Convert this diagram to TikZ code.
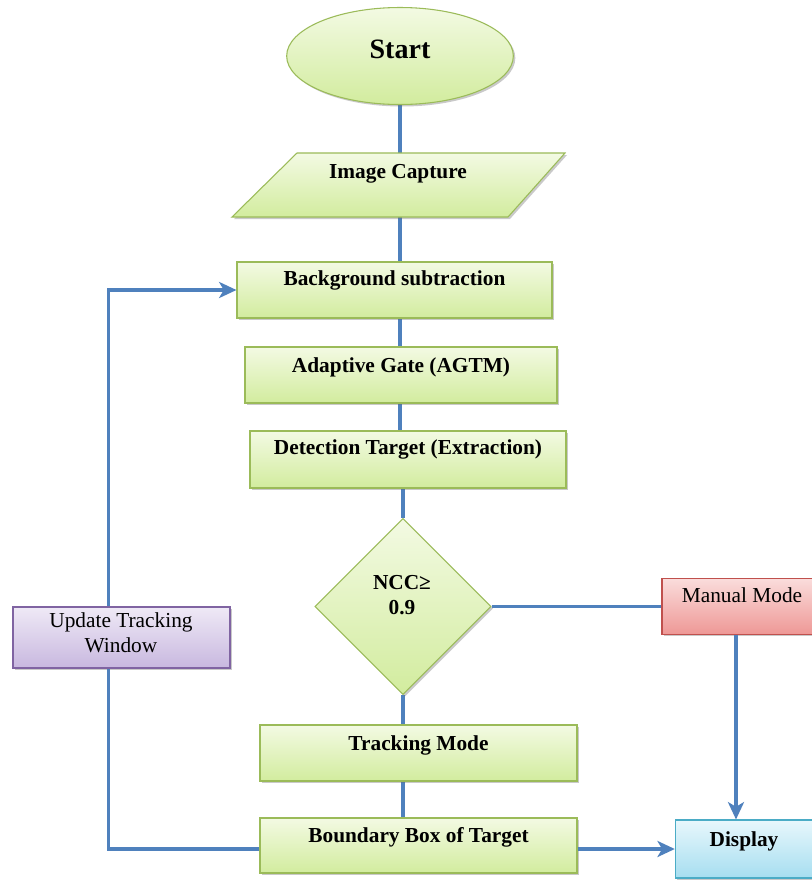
\documentclass[tikz,border=0pt]{standalone}
\usepackage{fontspec}
\setmainfont{Liberation Serif}
\usetikzlibrary{shapes.geometric,shadows,arrows.meta}
\definecolor{lnc}{HTML}{4F81BD}
\definecolor{gtop}{HTML}{F3FAE3}
\definecolor{gbot}{HTML}{D2EC9E}
\definecolor{gbrd}{HTML}{9BBB59}
\definecolor{ptop}{HTML}{FADCDB}
\definecolor{pbot}{HTML}{EE9896}
\definecolor{pbrd}{HTML}{C0504D}
\definecolor{vtop}{HTML}{EFE9F6}
\definecolor{vbot}{HTML}{C8B8DF}
\definecolor{vbrd}{HTML}{8064A2}
\definecolor{btop}{HTML}{E8F7FC}
\definecolor{bbot}{HTML}{A6DEF0}
\definecolor{bbrd}{HTML}{4BACC6}
\pgfdeclarelayer{bglayer}
\pgfsetlayers{bglayer,main}
\begin{document}
\begin{tikzpicture}[x=0.75pt,y=-0.75pt,
  shad/.style={drop shadow={shadow xshift=1.5pt,shadow yshift=-1.5pt,opacity=0.35,fill=black!60}},
  gbox/.style={draw=gbrd,line width=0.8pt,top color=gtop,bottom color=gbot,shad,inner sep=0pt,minimum height=42pt},
  pbox/.style={draw=pbrd,line width=0.8pt,top color=ptop,bottom color=pbot,shad,inner sep=0pt,minimum height=41.5pt},
  vbox/.style={draw=vbrd,line width=0.8pt,top color=vtop,bottom color=vbot,shad,inner sep=0pt,minimum height=45.75pt},
  bbox/.style={draw=bbrd,line width=0.8pt,top color=btop,bottom color=bbot,shad,inner sep=0pt,minimum height=43.5pt},
  lbl/.style={font=\fontsize{16}{19}\selectfont\bfseries,inner sep=0pt,align=center},
  rlbl/.style={font=\fontsize{16}{19}\selectfont,inner sep=0pt,align=center},
  conn/.style={draw=lnc,line width=2.4pt},
  arr/.style={conn,-{Stealth[length=13pt,width=12pt,inset=3.5pt]}}
]
\useasboundingbox (0,0) rectangle (812,882);

% start
\node[ellipse,draw=gbrd,line width=0.8pt,top color=gtop,bottom color=gbot,shad,minimum width=170pt,minimum height=72.75pt,inner sep=0pt] (start) at (400,56) {};
\node[lbl,font=\fontsize{21}{24}\selectfont\bfseries] (tstart) at (400,49) {Start};

% image capture parallelogram
\path[draw=gbrd,line width=0.8pt,top color=gtop,bottom color=gbot,shad] (297,153) -- (565,153) -- (508,217) -- (232,217) -- cycle;
\coordinate (ictop) at (400,153);
\coordinate (icbot) at (400,217);
\node[lbl] (tic) at (398,174) {Image Capture};

% process boxes
\node[gbox,minimum width=236.25pt] (bg) at (394.5,290) {};
\node[lbl] (tbg) at ([yshift=-14pt]bg.north) {Background subtraction};
\node[gbox,minimum width=234pt] (ag) at (401,375) {};
\node[lbl] (tag) at ([yshift=-15.5pt]ag.north) {Adaptive Gate (AGTM)};
\node[gbox,minimum width=237pt,minimum height=42.75pt] (dt) at (408,459.5) {};
\node[lbl] (tdt) at ([yshift=-14.5pt]dt.north) {Detection Target (Extraction)};

% decision
\node[diamond,draw=gbrd,line width=0.8pt,top color=gtop,bottom color=gbot,shad,minimum width=132pt,minimum height=132pt,inner sep=0pt] (ncc) at (403,606.5) {};
\node[lbl] (tncc) at (402,595) {NCC≥\\0.9};

% manual
\node[pbox,minimum width=120pt] (mm) at (742,606.5) {};
\node[rlbl] (tmm) at ([yshift=-13pt]mm.north) {Manual Mode};

% tracking & boundary
\node[gbox,minimum width=237.75pt] (tm) at (418.5,753) {};
\node[lbl] (ttm) at ([yshift=-16pt]tm.north) {Tracking Mode};
\node[gbox,minimum width=237.75pt,minimum height=41.25pt] (bb) at (418.5,845.5) {};
\node[lbl] (tbb) at ([yshift=-15pt]bb.north) {Boundary Box of Target};

% display
\node[bbox,minimum width=103pt] (dsp) at (744,849) {};
\node[lbl] (tdsp) at ([yshift=-16.5pt]dsp.north) {Display};

% update tracking window
\node[vbox,minimum width=162.75pt] (upd) at (121.5,637.5) {};
\node[rlbl] (tupd) at (121,633) {Update Tracking\\Window};

% connectors
\begin{pgfonlayer}{bglayer}
\fill[white] (0,0) rectangle (812,882);
\draw[conn] (start.south) -- (ictop);
\draw[conn] (icbot) -- (icbot |- bg.north);
\draw[conn] (bg.south -| icbot) -- (ag.north -| icbot);
\draw[conn] (ag.south -| icbot) -- (dt.north -| icbot);
\draw[conn] (dt.south -| ncc) -- (ncc.north);
\draw[conn] (ncc.east) -- (mm.west);
\draw[conn] (ncc.south) -- (ncc.south |- tm.north);
\draw[conn] (tm.south -| ncc) -- (bb.north -| ncc);
\end{pgfonlayer}
\draw[arr] ([xshift=-4.5pt]mm.south) -- ([xshift=-4.5pt]mm.south |- dsp.north);
\draw[arr] (bb.east |- dsp.west) -- (dsp.west);
\draw[conn] (bb.west |- dsp.west) -| ([xshift=-10pt]upd.south);
\draw[arr] ([xshift=-10pt]upd.north) |- (bg.west);
\end{tikzpicture}
\end{document}
